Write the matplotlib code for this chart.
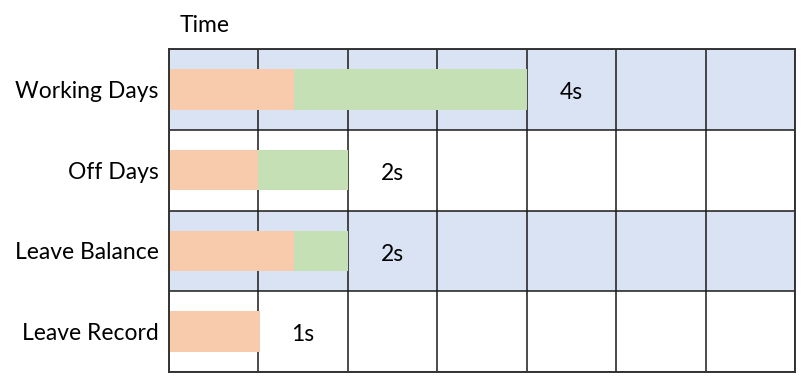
import numpy as np
import matplotlib.pyplot as plt

plt.rcParams['font.family'] = ['Lato', 'DejaVu Sans']

tasks = ['Working Days', 'Off Days', 'Leave Balance', 'Leave Record']
orange_part = [1.4, 1.0, 1.4, 1.02]
green_part = [2.6, 1.0, 0.6, 0.0]
durations = ['4s', '2s', '2s', '1s']
n_cols = 7

orange = '#F8CBAD'
green = '#C5E0B4'
band = '#DAE3F3'
fs = 16.5

fig = plt.figure(figsize=(8.09, 3.86), dpi=100)
ax = fig.add_axes([169 / 809, 1 - 372 / 386, (795 - 169) / 809, (372 - 49) / 386])

y = np.arange(len(tasks))

# striped row backgrounds
for i in y:
    if i % 2 == 0:
        ax.axhspan(i - 0.5, i + 0.5, color=band, zorder=0.2, lw=0)

ax.barh(y, orange_part, height=0.5, color=orange, zorder=2)
ax.barh(y, green_part, left=orange_part, height=0.5, color=green, zorder=2)

totals = np.array(orange_part) + np.array(green_part)
for i, (t, lab) in enumerate(zip(totals, durations)):
    ax.text(round(t) + 0.5, i + 0.04, lab, ha='center', va='center', fontsize=fs, zorder=3)

ax.set_xlim(0, n_cols)
ax.set_ylim(len(tasks) - 0.5, -0.5)
ax.set_yticks(y)
ax.set_yticklabels(tasks, fontsize=fs)
ax.set_yticks(np.arange(len(tasks) + 1) - 0.5, minor=True)
ax.set_xticks(np.arange(n_cols + 1))
ax.set_xticklabels([])
ax.tick_params(which='both', length=0, pad=7.5)
ax.set_axisbelow(True)
ax.grid(axis='x', which='major', color='#1a1a1a', lw=1.1)
ax.grid(axis='y', which='minor', color='#1a1a1a', lw=1.1)
for s in ax.spines.values():
    s.set_color('#333333')
    s.set_linewidth(1.4)

fig.text(180 / 809, 1 - 25 / 386, 'Time', ha='left', va='center', fontsize=fs)

fig.savefig('out.png', dpi=100)
